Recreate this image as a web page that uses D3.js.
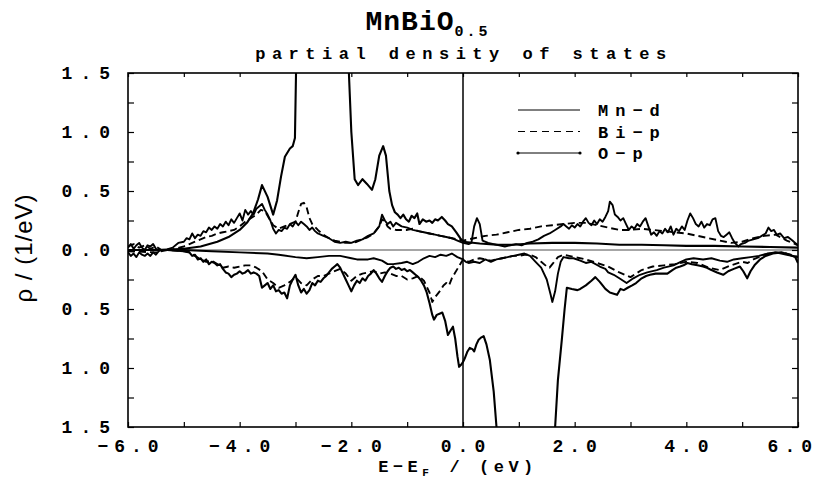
<!DOCTYPE html>
<html>
<head>
<meta charset="utf-8">
<script src="https://cdn.jsdelivr.net/npm/d3@7"></script>
<style>
body{margin:0;background:#fff}
svg text{font-family:"Liberation Mono",monospace;font-weight:bold;fill:#000}
</style>
</head>
<body>
<script>

// partial DOS of MnBiO0.5, [E - EF (eV), rho (1/eV)]
// spin-down values are stored positive and drawn below the zero line

var mnUp = [[-6,0],[-5.4,0],[-5.0,0.01],[-4.7,0.03],[-4.4,0.07],[-4.2,0.11],[-4.0,0.17],[-3.87,0.23],[-3.76,0.31],
  [-3.67,0.43],[-3.6,0.55],[-3.5,0.45],[-3.4,0.3],[-3.33,0.42],[-3.26,0.62],[-3.19,0.79],[-3.1,0.86],[-3.05,0.88],
  [-3.01,0.95],[-2.98,1.8],[-2.9,2.6],[-2.2,2.6],[-2.07,1.8],[-2.0,1.0],[-1.94,0.6],[-1.88,0.55],[-1.8,0.6],[-1.72,0.56],
  [-1.63,0.51],[-1.57,0.6],[-1.5,0.8],[-1.43,0.88],[-1.38,0.8],[-1.32,0.5],[-1.27,0.38],[-1.22,0.32],[-1.17,0.3],
  [-1.12,0.27],[-1.07,0.3],[-1.02,0.26],[-0.97,0.24],[-0.92,0.29],[-0.87,0.27],[-0.82,0.31],[-0.78,0.22],[-0.72,0.26],
  [-0.66,0.24],[-0.6,0.25],[-0.55,0.23],[-0.5,0.26],[-0.45,0.25],[-0.38,0.28],[-0.32,0.25],[-0.27,0.22],[-0.2,0.2],
  [-0.12,0.15],[-0.05,0.1],[0,0.07],[0.3,0.055],[0.6,0.045],[0.9,0.045],[1.2,0.055],[1.6,0.06],[2.0,0.06],[2.4,0.055],
  [2.8,0.045],[3.2,0.045],[3.6,0.04],[4.0,0.035],[4.5,0.035],[5.0,0.03],[5.5,0.025],[6.0,0.02]];

var biUp = [[-6,0.03],[-5.9,0.05],[-5.8,0.02],[-5.7,0.04],[-5.6,0.01],[-5.5,0.03],[-5.4,0],[-5.2,0.005],[-5.0,0.03],
  [-4.9,0.05],[-4.8,0.07],[-4.7,0.09],[-4.6,0.11],[-4.5,0.12],[-4.4,0.14],[-4.3,0.15],[-4.2,0.16],[-4.1,0.17],
  [-4.0,0.2],[-3.9,0.24],[-3.8,0.27],[-3.7,0.3],[-3.62,0.34],[-3.55,0.33],[-3.5,0.29],[-3.4,0.21],[-3.3,0.18],
  [-3.2,0.2],[-3.1,0.22],[-3.0,0.24],[-2.95,0.32],[-2.9,0.39],[-2.85,0.4],[-2.8,0.36],[-2.75,0.27],[-2.7,0.22],
  [-2.6,0.17],[-2.5,0.13],[-2.4,0.1],[-2.3,0.08],[-2.2,0.07],[-2.1,0.06],[-2.0,0.06],[-1.9,0.07],[-1.8,0.09],
  [-1.7,0.11],[-1.6,0.14],[-1.5,0.2],[-1.45,0.26],[-1.4,0.24],[-1.35,0.2],[-1.3,0.18],[-1.2,0.17],[-1.1,0.17],
  [-1.0,0.17],[-0.9,0.18],[-0.8,0.16],[-0.7,0.15],[-0.6,0.14],[-0.5,0.13],[-0.4,0.12],[-0.3,0.11],[-0.2,0.1],
  [-0.1,0.09],[0,0.08],[0.2,0.1],[0.4,0.12],[0.6,0.13],[0.8,0.15],[1.0,0.17],[1.2,0.18],[1.4,0.2],[1.6,0.21],
  [1.8,0.22],[2.0,0.23],[2.2,0.23],[2.4,0.21],[2.6,0.19],[2.8,0.17],[3.0,0.17],[3.2,0.18],[3.4,0.17],[3.6,0.16],
  [3.8,0.15],[4.0,0.14],[4.2,0.12],[4.4,0.1],[4.6,0.08],[4.8,0.06],[5.0,0.07],[5.2,0.1],[5.4,0.12],[5.6,0.13],
  [5.8,0.08],[6.0,0.04]];

var oUp = [[-6,0.02],[-5.95,0.05],[-5.9,0.01],[-5.85,0.04],[-5.8,0.06],[-5.75,0.02],[-5.7,0],[-5.65,0.04],
  [-5.6,0.03],[-5.55,0.05],[-5.5,0.01],[-5.45,0],[-5.3,0.005],[-5.2,0.02],[-5.1,0.06],[-5.0,0.07],[-4.95,0.1],
  [-4.9,0.09],[-4.85,0.14],[-4.8,0.1],[-4.75,0.13],[-4.7,0.12],[-4.65,0.16],[-4.6,0.15],[-4.55,0.19],[-4.5,0.17],
  [-4.45,0.2],[-4.4,0.18],[-4.35,0.22],[-4.3,0.2],[-4.25,0.24],[-4.2,0.21],[-4.15,0.26],[-4.1,0.23],[-4.05,0.27],
  [-4.0,0.31],[-3.95,0.25],[-3.9,0.34],[-3.85,0.3],[-3.8,0.33],[-3.75,0.3],[-3.7,0.35],[-3.6,0.39],[-3.55,0.34],
  [-3.5,0.3],[-3.45,0.25],[-3.4,0.18],[-3.35,0.14],[-3.3,0.17],[-3.25,0.16],[-3.2,0.19],[-3.15,0.18],[-3.1,0.22],
  [-3.05,0.2],[-3.0,0.24],[-2.95,0.21],[-2.9,0.24],[-2.85,0.22],[-2.8,0.2],[-2.75,0.17],[-2.7,0.19],[-2.65,0.16],
  [-2.6,0.14],[-2.5,0.12],[-2.4,0.1],[-2.3,0.07],[-2.2,0.06],[-2.1,0.07],[-2.0,0.06],[-1.9,0.08],[-1.8,0.09],
  [-1.7,0.12],[-1.6,0.14],[-1.55,0.17],[-1.5,0.2],[-1.45,0.3],[-1.4,0.25],[-1.35,0.22],[-1.3,0.24],[-1.25,0.2],
  [-1.2,0.23],[-1.1,0.2],[-1.0,0.19],[-0.9,0.17],[-0.8,0.16],[-0.7,0.15],[-0.6,0.14],[-0.5,0.13],[-0.4,0.12],
  [-0.3,0.11],[-0.2,0.1],[-0.1,0.08],[0,0.06],[0.1,0.05],[0.15,0.06],[0.2,0.2],[0.25,0.27],[0.3,0.22],[0.35,0.08],
  [0.45,0.06],[0.55,0.05],[0.65,0.04],[0.75,0.03],[0.85,0.04],[0.95,0.05],[1.05,0.04],[1.15,0.06],[1.25,0.07],
  [1.35,0.09],[1.45,0.12],[1.55,0.14],[1.65,0.17],[1.75,0.2],[1.8,0.22],[1.85,0.2],[1.9,0.18],[1.95,0.21],[2.0,0.19],
  [2.05,0.22],[2.1,0.2],[2.15,0.24],[2.2,0.27],[2.25,0.23],[2.3,0.21],[2.35,0.25],[2.4,0.22],[2.45,0.26],[2.5,0.24],
  [2.55,0.28],[2.6,0.33],[2.63,0.41],[2.68,0.38],[2.72,0.3],[2.77,0.28],[2.82,0.25],[2.87,0.27],[2.92,0.22],
  [2.97,0.17],[3.02,0.2],[3.07,0.18],[3.12,0.22],[3.17,0.2],[3.22,0.24],[3.27,0.27],[3.32,0.2],[3.37,0.13],
  [3.42,0.15],[3.47,0.12],[3.52,0.16],[3.57,0.14],[3.62,0.18],[3.67,0.15],[3.72,0.2],[3.77,0.13],[3.82,0.18],
  [3.87,0.16],[3.92,0.2],[3.97,0.17],[4.02,0.25],[4.07,0.31],[4.12,0.27],[4.17,0.22],[4.22,0.2],[4.27,0.24],
  [4.32,0.19],[4.37,0.22],[4.42,0.21],[4.47,0.26],[4.52,0.27],[4.57,0.16],[4.62,0.12],[4.67,0.11],[4.72,0.13],
  [4.77,0.15],[4.82,0.1],[4.87,0.06],[4.93,0.03],[4.98,0.05],[5.05,0.06],[5.12,0.08],[5.2,0.09],[5.28,0.1],
  [5.35,0.12],[5.42,0.14],[5.47,0.19],[5.52,0.16],[5.57,0.17],[5.62,0.13],[5.68,0.14],[5.75,0.1],[5.82,0.11],
  [5.9,0.08],[5.95,0.06],[6.0,0.04]];

var mnDn = [[-6,0],[-5.3,0],[-5.0,0.01],[-4.9,0.02],[-4.85,0.05],[-4.8,0.04],[-4.75,0.08],[-4.7,0.07],[-4.65,0.1],
  [-4.6,0.08],[-4.55,0.12],[-4.5,0.1],[-4.45,0.11],[-4.4,0.13],[-4.35,0.12],[-4.3,0.16],[-4.25,0.19],[-4.2,0.2],
  [-4.15,0.23],[-4.1,0.21],[-4.05,0.2],[-4.0,0.18],[-3.95,0.2],[-3.9,0.19],[-3.85,0.17],[-3.8,0.2],[-3.75,0.19],
  [-3.7,0.2],[-3.65,0.22],[-3.6,0.32],[-3.55,0.3],[-3.5,0.28],[-3.45,0.33],[-3.4,0.3],[-3.35,0.35],[-3.3,0.34],
  [-3.25,0.37],[-3.2,0.36],[-3.15,0.41],[-3.1,0.3],[-3.05,0.25],[-3.0,0.21],[-2.95,0.3],[-2.9,0.36],[-2.85,0.33],
  [-2.8,0.37],[-2.75,0.34],[-2.7,0.28],[-2.65,0.3],[-2.6,0.26],[-2.55,0.27],[-2.5,0.24],[-2.45,0.22],[-2.4,0.19],
  [-2.35,0.16],[-2.3,0.14],[-2.25,0.12],[-2.2,0.15],[-2.15,0.2],[-2.1,0.25],[-2.05,0.3],[-2.0,0.35],[-1.95,0.3],
  [-1.9,0.26],[-1.85,0.28],[-1.8,0.24],[-1.75,0.26],[-1.7,0.22],[-1.65,0.2],[-1.6,0.17],[-1.55,0.2],[-1.5,0.24],
  [-1.45,0.27],[-1.4,0.22],[-1.35,0.18],[-1.3,0.15],[-1.25,0.14],[-1.2,0.16],[-1.15,0.15],[-1.1,0.17],[-1.05,0.16],
  [-1.0,0.18],[-0.95,0.17],[-0.9,0.19],[-0.85,0.21],[-0.8,0.23],[-0.75,0.26],[-0.7,0.3],[-0.65,0.36],[-0.6,0.45],
  [-0.55,0.55],[-0.52,0.59],[-0.47,0.55],[-0.42,0.54],[-0.37,0.53],[-0.32,0.6],[-0.27,0.72],[-0.22,0.68],
  [-0.18,0.65],[-0.14,0.75],[-0.1,0.9],[-0.07,0.99],[-0.03,0.97],[0,0.95],[0.03,0.92],[0.08,0.86],[0.12,0.83],
  [0.17,0.84],[0.2,0.86],[0.24,0.8],[0.28,0.76],[0.33,0.74],[0.37,0.73],[0.42,0.8],[0.48,0.93],[0.55,1.2],
  [0.6,1.5],[0.65,1.8],[0.7,2.5],[1.6,2.5],[1.65,1.5],[1.7,1.1],[1.77,0.76],[1.82,0.5],[1.86,0.32],[1.95,0.33],
  [2.05,0.34],[2.1,0.33],[2.2,0.3],[2.3,0.26],[2.37,0.23],[2.45,0.27],[2.5,0.3],[2.55,0.33],[2.63,0.36],[2.7,0.37],
  [2.76,0.38],[2.82,0.33],[2.88,0.34],[2.95,0.32],[3.03,0.3],[3.1,0.28],[3.2,0.24],[3.28,0.22],[3.35,0.21],
  [3.45,0.2],[3.55,0.2],[3.66,0.2],[3.75,0.17],[3.82,0.15],[3.89,0.14],[3.95,0.13],[4.02,0.11],[4.1,0.12],
  [4.2,0.13],[4.3,0.14],[4.37,0.15],[4.45,0.17],[4.55,0.19],[4.66,0.21],[4.75,0.18],[4.85,0.16],[4.96,0.14],
  [5.02,0.18],[5.09,0.24],[5.15,0.18],[5.22,0.13],[5.32,0.08],[5.42,0.05],[5.55,0.03],[5.7,0.02],[5.85,0.04],
  [5.95,0.06],[6.0,0.11]];

var biDn = [[-6,0.01],[-5.5,0.02],[-5.3,0],[-5.0,0.01],[-4.9,0.02],[-4.8,0.05],[-4.7,0.08],[-4.6,0.1],[-4.5,0.09],
  [-4.4,0.12],[-4.3,0.15],[-4.2,0.14],[-4.1,0.15],[-4.0,0.14],[-3.9,0.13],[-3.8,0.13],[-3.7,0.15],[-3.6,0.18],
  [-3.5,0.25],[-3.4,0.28],[-3.3,0.32],[-3.2,0.3],[-3.1,0.27],[-3.0,0.23],[-2.9,0.28],[-2.8,0.3],[-2.7,0.25],
  [-2.6,0.22],[-2.5,0.22],[-2.4,0.2],[-2.3,0.18],[-2.2,0.16],[-2.1,0.2],[-2.0,0.26],[-1.9,0.22],[-1.8,0.2],
  [-1.7,0.19],[-1.6,0.18],[-1.5,0.2],[-1.4,0.19],[-1.3,0.2],[-1.2,0.22],[-1.1,0.22],[-1.0,0.25],[-0.9,0.24],
  [-0.8,0.22],[-0.7,0.26],[-0.6,0.36],[-0.55,0.44],[-0.5,0.4],[-0.45,0.37],[-0.4,0.34],[-0.35,0.3],[-0.3,0.28],
  [-0.25,0.3],[-0.2,0.24],[-0.15,0.2],[-0.1,0.16],[-0.05,0.12],[0,0.08],[0.1,0.1],[0.2,0.08],[0.3,0.07],[0.4,0.08],
  [0.5,0.09],[0.6,0.08],[0.7,0.07],[0.8,0.06],[0.9,0.05],[1.0,0.05],[1.1,0.04],[1.2,0.04],[1.3,0.06],[1.4,0.1],
  [1.5,0.14],[1.55,0.15],[1.6,0.12],[1.7,0.06],[1.8,0.04],[1.9,0.05],[2.0,0.06],[2.2,0.08],[2.4,0.11],[2.6,0.14],
  [2.8,0.19],[3.0,0.23],[3.1,0.2],[3.2,0.17],[3.4,0.14],[3.6,0.13],[3.8,0.12],[4.0,0.1],[4.2,0.11],[4.4,0.15],
  [4.6,0.17],[4.7,0.15],[4.8,0.13],[5.0,0.1],[5.1,0.11],[5.2,0.08],[5.4,0.04],[5.6,0.02],[5.8,0.03],[6.0,0.06]];

var oDn = [[-6,0.02],[-5.95,0.05],[-5.9,0.03],[-5.85,0.06],[-5.8,0.02],[-5.75,0.04],[-5.7,0.05],[-5.65,0.03],
  [-5.6,0.05],[-5.55,0.02],[-5.5,0.04],[-5.45,0.01],[-5.4,0],[-5.0,0],[-4.5,0.01],[-4.0,0.02],[-3.5,0.03],
  [-3.3,0.04],[-3.0,0.06],[-2.8,0.07],[-2.6,0.06],[-2.4,0.05],[-2.2,0.05],[-2.0,0.07],[-1.9,0.08],[-1.7,0.08],
  [-1.6,0.07],[-1.45,0.09],[-1.35,0.12],[-1.25,0.12],[-1.1,0.11],[-1.0,0.1],[-0.9,0.12],[-0.8,0.1],[-0.7,0.07],
  [-0.6,0.05],[-0.5,0.06],[-0.4,0.04],[-0.3,0.05],[-0.2,0.03],[-0.1,0.06],[0,0.08],[0.05,0.1],[0.1,0.11],[0.2,0.1],
  [0.3,0.11],[0.4,0.08],[0.5,0.1],[0.6,0.08],[0.7,0.07],[0.8,0.06],[0.9,0.05],[1.0,0.04],[1.1,0.03],[1.2,0.05],
  [1.3,0.1],[1.4,0.15],[1.5,0.25],[1.57,0.38],[1.6,0.44],[1.65,0.35],[1.7,0.2],[1.75,0.1],[1.8,0.06],[1.9,0.07],
  [1.98,0.07],[2.1,0.09],[2.2,0.11],[2.3,0.1],[2.45,0.14],[2.55,0.16],[2.6,0.19],[2.7,0.21],[2.8,0.24],[2.93,0.28],
  [3.05,0.24],[3.17,0.21],[3.3,0.19],[3.47,0.17],[3.6,0.15],[3.77,0.13],[3.9,0.1],[4.0,0.08],[4.13,0.07],[4.3,0.08],
  [4.45,0.07],[4.6,0.09],[4.73,0.1],[4.85,0.08],[5.0,0.07],[5.15,0.06],[5.3,0.05],[5.45,0.03],[5.6,0.02],[5.8,0.04],
  [6.0,0.06]];

var xTicks = [-6, -5, -4, -3, -2, -1, 0, 1, 2, 3, 4, 5, 6];
var xLabels = [-6, -4, -2, 0, 2, 4, 6];
var yTicks = [-1.5, -1.25, -1, -0.75, -0.5, -0.25, 0, 0.25, 0.5, 0.75, 1, 1.25, 1.5];
var yLabels = [-1.5, -1, -0.5, 0, 0.5, 1, 1.5];
var legendNames = ['Mn-d', 'Bi-p', 'O-p'];


var W = 819, H = 478;
var L = 128, R = 798, T = 73, B = 427;

var x = d3.scaleLinear().domain([-6, 6]).range([L, R]);
var y = d3.scaleLinear().domain([-1.5, 1.5]).range([B, T]);

var svg = d3.select('body').append('svg').attr('width', W).attr('height', H);

svg.append('clipPath').attr('id', 'plot')
    .append('rect').attr('x', L).attr('y', T).attr('width', R - L).attr('height', B - T);

// zero line and Fermi level
svg.append('line').attr('x1', L).attr('x2', R).attr('y1', y(0)).attr('y2', y(0))
    .attr('stroke', '#888').attr('stroke-width', 1.4);
svg.append('line').attr('x1', x(0)).attr('x2', x(0)).attr('y1', T).attr('y2', B)
    .attr('stroke', '#000').attr('stroke-width', 1.5);

var up = d3.line().x(function(d){ return x(d[0]); }).y(function(d){ return y(d[1]); });
var dn = d3.line().x(function(d){ return x(d[0]); }).y(function(d){ return y(-d[1]); });

var curves = [
    {d: mnUp, f: up, dash: null, w: 2.1},
    {d: mnDn, f: dn, dash: null, w: 2.1},
    {d: biUp, f: up, dash: '7,4', w: 1.9},
    {d: biDn, f: dn, dash: '7,4', w: 1.9},
    {d: oUp, f: up, dash: null, w: 1.9},
    {d: oDn, f: dn, dash: null, w: 1.9}
];

svg.append('g').attr('clip-path', 'url(#plot)')
    .selectAll('path').data(curves).enter().append('path')
    .attr('d', function(c){ return c.f(c.d); })
    .attr('fill', 'none').attr('stroke', '#000')
    .attr('stroke-width', function(c){ return c.w; })
    .attr('stroke-linejoin', 'round')
    .attr('stroke-dasharray', function(c){ return c.dash; });

// axes, ticks pointing inward
function tidy(g) {
    g.select('.domain').remove();
    g.selectAll('.tick line').attr('stroke', '#000').attr('stroke-width', 1.2);
}

svg.append('g').attr('transform', 'translate(0,' + B + ')')
    .call(d3.axisBottom(x).tickValues(xTicks).tickSize(-5).tickFormat(''))
    .call(tidy);
svg.append('g').attr('transform', 'translate(0,' + T + ')')
    .call(d3.axisTop(x).tickValues(xTicks).tickSize(-4).tickFormat(''))
    .call(tidy);
svg.append('g').attr('transform', 'translate(' + L + ',0)')
    .call(d3.axisLeft(y).tickValues(yTicks).tickSize(-6).tickFormat(''))
    .call(tidy);
svg.append('g').attr('transform', 'translate(' + R + ',0)')
    .call(d3.axisRight(y).tickValues(yTicks).tickSize(-6).tickFormat(''))
    .call(tidy);

svg.append('rect').attr('x', L).attr('y', T).attr('width', R - L).attr('height', B - T)
    .attr('fill', 'none').attr('stroke', '#000').attr('stroke-width', 1.6);

// tick labels (letter-spacing trails the last glyph, so shift by half of it)
svg.append('g').selectAll('text').data(xLabels).enter().append('text')
    .attr('x', function(d){ return d === 6 ? W - 1 : x(d) + 3; })
    .attr('y', 452)
    .attr('text-anchor', function(d){ return d === 6 ? 'end' : 'middle'; })
    .style('font-size', '18px').style('letter-spacing', '6px')
    .text(function(d){ return d.toFixed(1).replace('-', '\u2212'); });

svg.append('g').selectAll('text').data(yLabels).enter().append('text')
    .attr('x', 118)
    .attr('y', function(d){ return y(d) + 6; })
    .attr('text-anchor', 'end')
    .style('font-size', '18px').style('letter-spacing', '8px')
    .text(function(d){ return Math.abs(d).toFixed(1); });

// titles
var title = svg.append('text').attr('x', 428).attr('y', 30).attr('text-anchor', 'middle')
    .style('font-size', '28px').style('letter-spacing', '1px');
title.append('tspan').text('MnBiO');
title.append('tspan').attr('dy', 6).style('font-size', '15px').style('letter-spacing', '3px').text('0.5');

svg.append('text').attr('x', 464).attr('y', 59).attr('text-anchor', 'middle')
    .style('font-size', '17px').style('letter-spacing', '6.5px')
    .text('partial density of states');

var xt = svg.append('text').attr('x', 458).attr('y', 472).attr('text-anchor', 'middle')
    .style('font-size', '17px').style('letter-spacing', '4.5px');
xt.append('tspan').text('E\u2212E');
xt.append('tspan').attr('dy', 4).style('font-size', '11px').style('letter-spacing', '6px').text('F');
xt.append('tspan').attr('dy', -4).text(' / (eV)');

svg.append('text').attr('transform', 'translate(32,248) rotate(-90)')
    .attr('text-anchor', 'middle')
    .style('font-family', '"Liberation Sans", Arial, sans-serif').style('font-weight', 'normal')
    .style('font-size', '24px').style('letter-spacing', '1px')
    .text('\u03c1 / (1/eV)');

// legend
var lg = svg.append('g').selectAll('g').data(legendNames).enter().append('g')
    .attr('transform', function(d, i){ return 'translate(518,' + (110 + i * 21.5) + ')'; });
lg.append('line').attr('x1', 0).attr('x2', 62).attr('y1', 0).attr('y2', 0)
    .attr('stroke', '#000').attr('stroke-width', 1)
    .attr('stroke-dasharray', function(d, i){ return i === 1 ? '7,5' : null; });
lg.filter(function(d, i){ return i === 2; }).selectAll('circle').data([0, 62]).enter().append('circle')
    .attr('cx', function(d){ return d; }).attr('cy', 0).attr('r', 1.6).attr('fill', '#000');
lg.append('text').attr('x', 80).attr('y', 6)
    .style('font-size', '17px').style('letter-spacing', '7px')
    .text(function(d){ return d.replace('-', '\u2212'); });

</script>
</body>
</html>
